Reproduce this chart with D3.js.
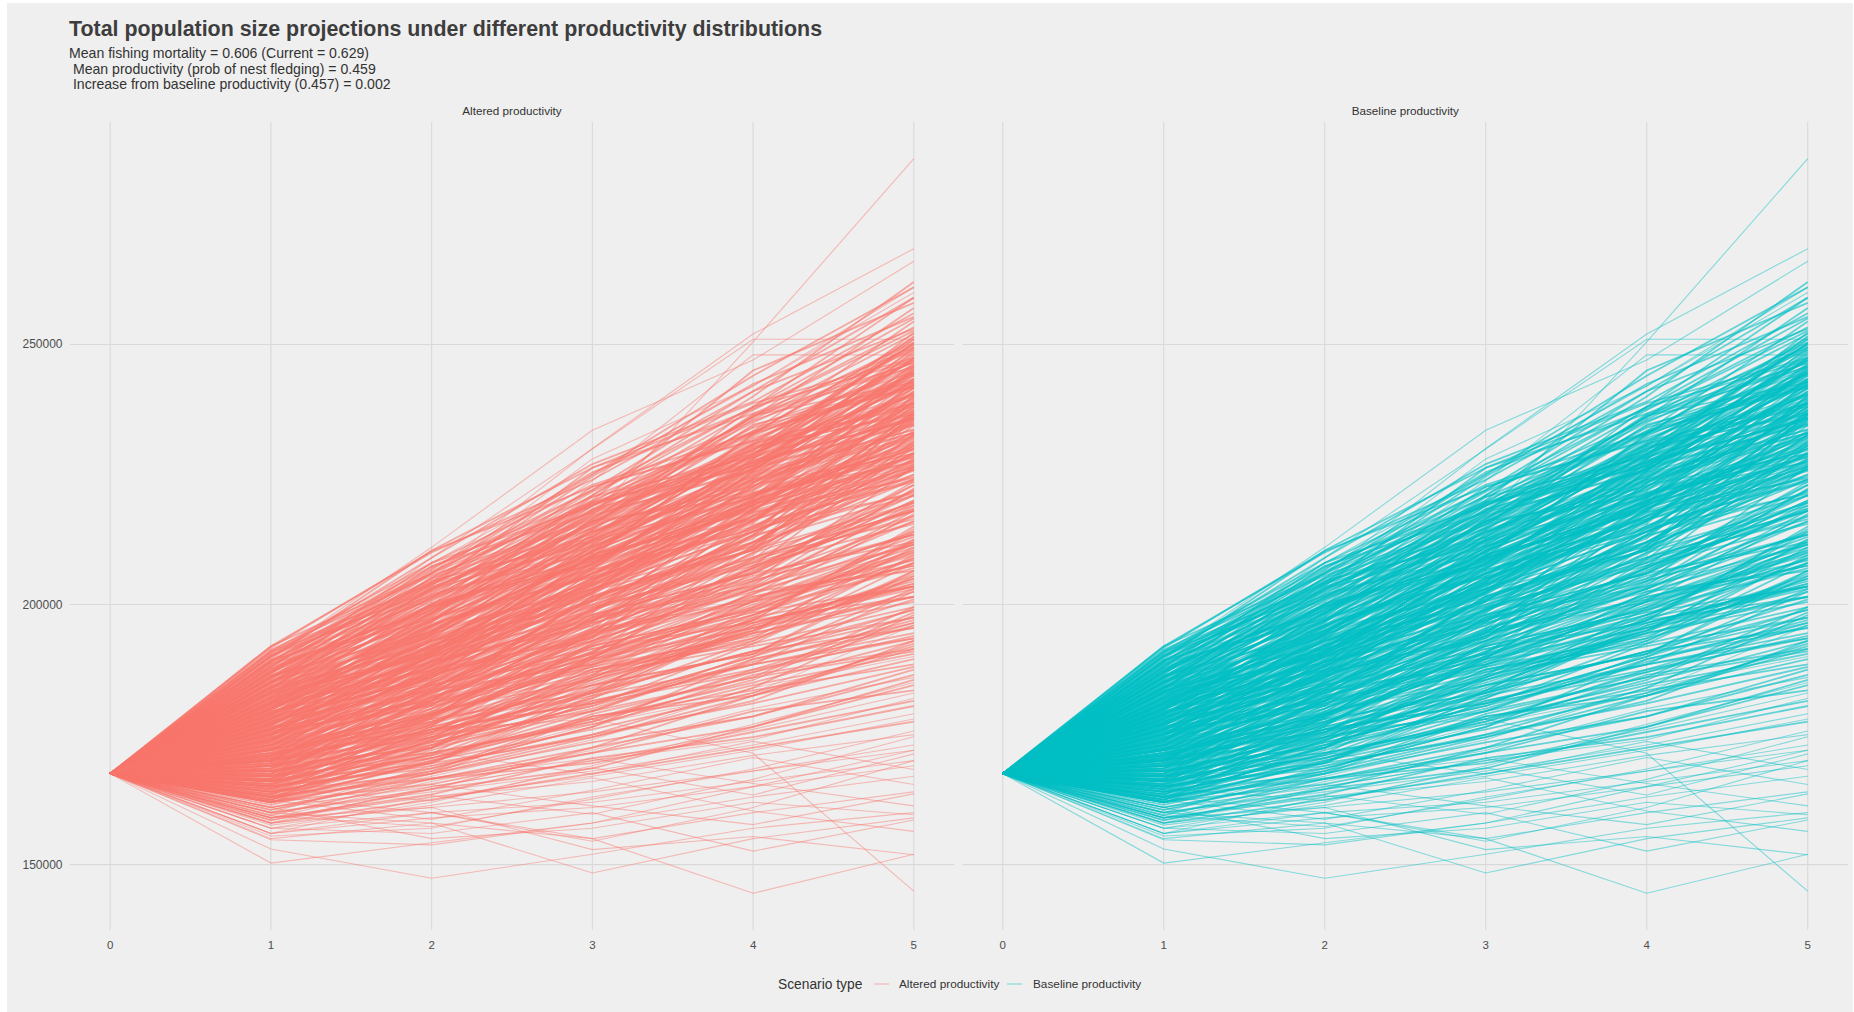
<!DOCTYPE html>
<html>
<head>
<meta charset="utf-8">
<script src="https://cdn.jsdelivr.net/npm/d3@7"></script>
<style>
  body { margin: 0; background: #fff; }
  text { font-family: "Liberation Sans", Arial, sans-serif; }
</style>
</head>
<body>
<script>
// years on the x axis and the common starting size (thousands)
var years = [0, 1, 2, 3, 4, 5];
var startSize = 167.5;

// simulated runs, total population in thousands at years 1..5
var upperRuns = [
  [192,210,224,241,259],[192,206,219,233,250],[191,208,219,236,252],[191,204,221,238,247],
  [190,206,225,244,261],[190,203,218,229,247],[190,209,227,239,256],[189,207,222,238,255],
  [189,201,213,232,243],[189,205,220,245,258],[188,205,216,228,251],[188,199,219,235,249],
  [188,208,223,233,242],[187,204,213,231,238],[187,200,221,240,262],[187,202,210,224,236],
  [186,203,217,226,244],[186,197,210,227,236],[186,206,222,241,253],[186,199,216,230,240],
  [185,202,220,233,246],[185,198,214,222,241],[185,196,207,224,233],[185,204,218,236,257],
  [185,200,209,219,230],[184,200,216,231,250],[184,195,209,219,238],[184,203,212,227,245],
  [184,197,218,234,242],[184,192,204,217,226],[183,199,212,229,242],[183,194,211,225,233],
  [183,201,219,229,249],[183,196,206,215,224],[183,190,203,221,239],
  [191.3,205.6,216.4,230.7,244.3],[191.7,210.3,222.6,231.4,246.8],[190.4,201.7,215.3,235.6,250.4],[190.6,207.3,220.7,228.4,239.6],
  [190.2,204.6,212.3,226.7,248.4],[189.4,203.7,219.6,227.3,235.7],[189.6,210.4,226.3,236.7,249.4],[189.3,198.6,211.7,225.4,240.6],
  [188.7,202.4,214.6,236.3,245.7],[188.4,206.7,225.4,237.6,253.3],[188.6,197.3,208.7,218.4,232.6],[187.3,206.4,219.7,229.6,250.3],
  [187.6,198.3,215.6,233.4,241.7],[187.4,203.6,226.3,238.7,247.4],[187.7,199.4,207.6,221.3,229.7],[186.3,201.6,212.4,230.7,249.6],
  [186.6,207.4,217.7,228.3,237.6],[186.4,194.7,209.3,220.6,243.4],[186.7,204.3,224.6,242.4,255.3],[185.4,197.6,218.3,226.7,238.4],
  [185.7,203.4,213.6,228.7,252.3],[185.3,193.7,210.4,230.3,236.6],[185.6,201.3,222.7,231.6,244.4],[184.4,199.7,208.3,223.6,237.4],
  [184.7,205.3,219.4,226.6,242.7],[184.3,194.4,214.7,228.3,251.6],[184.6,201.4,211.3,220.7,234.6],[183.4,196.7,216.3,236.6,246.4],
  [183.7,203.3,215.4,222.7,238.3],[183.3,192.6,207.4,227.6,240.3],[183.6,198.4,220.7,233.3,254.4],
  [188.3,204.4,221.7,235.3,246.6],[186.2,200.6,218.4,232.7,251.4],[184.2,198.3,215.7,227.4,244.6],[185.2,199.7,210.6,226.3,247.7],
  [183.2,195.6,213.3,232.4,245.6],[187.2,201.4,216.7,234.3,244.7],[189.2,204.3,214.7,229.6,245.3],[190.8,202.6,217.4,236.3,242.7]
];
var middleRuns = [
  [182,197,215,238,259],[182,193,206,217,229],[182,200,214,224,245],[182,191,208,226,235],
  [182,195,203,212,221],[181,196,208,222,236],[181,191,205,220,231],[181,194,210,228,248],
  [181,198,216,221,232],[181,189,199,214,227],[180,192,203,214,226],[180,197,213,230,237],
  [180,189,204,216,240],[180,195,209,233,251],[180,193,200,209,218],[179,193,207,219,235],
  [179,188,201,213,224],[179,196,214,226,243],[179,190,198,206,220],[179,192,211,223,229],
  [178,195,211,226,243],[178,190,205,217,232],[178,186,199,212,228],[178,193,202,218,241],
  [178,188,208,220,233],[177,192,206,221,229],[177,188,203,214,237],[177,185,196,210,219],
  [177,194,209,218,238],[177,189,197,205,216],[176,191,208,225,246],[176,187,199,208,223],
  [176,183,195,207,221],[176,190,202,220,230],[176,186,205,214,225],[175,190,204,218,227],
  [175,186,200,215,231],[175,182,193,203,214],[175,192,207,228,244],[175,184,197,206,212],
  [174,189,201,212,228],[174,184,197,208,217],[174,187,193,204,219],[174,181,190,201,211],
  [174,191,205,216,236],[173,187,203,216,239],[173,182,194,205,222],[173,185,199,209,218],
  [173,179,188,197,208],[173,189,196,211,224],[172,185,198,211,225],[172,180,191,202,213],
  [172,188,206,219,233],[172,183,192,199,210],[172,178,195,207,222],
  [182.3,199.6,209.4,219.7,242.4],[182.6,194.3,212.7,230.4,238.6],[182.4,202.7,219.3,228.6,247.3],[182.7,190.4,206.6,216.3,235.7],
  [181.3,197.6,211.4,229.7,250.3],[181.6,193.4,214.3,224.6,233.7],[181.4,200.3,207.7,218.4,228.6],[181.7,191.6,209.3,232.7,243.4],
  [180.3,198.4,217.6,227.3,236.7],[180.6,190.7,208.4,219.6,245.3],[180.4,196.3,205.7,225.4,233.6],[180.7,187.4,202.6,223.3,239.7],
  [180.2,199.3,219.6,237.4,252.6],[179.3,191.7,210.4,221.6,230.3],[179.6,197.4,205.3,214.7,233.4],[179.4,186.6,203.7,220.3,241.6],
  [179.7,194.3,216.6,231.4,238.7],[179.2,189.6,202.3,225.7,247.4],[178.3,192.4,209.7,216.4,226.6],[178.6,198.7,214.3,234.6,242.3],
  [178.4,187.3,204.6,222.7,236.4],[178.7,191.4,199.7,213.4,230.6],[178.2,196.6,217.3,225.6,249.4],[177.3,190.6,210.3,227.7,235.4],
  [177.6,186.3,200.7,219.4,227.6],[177.4,195.7,205.4,224.3,244.6],[177.7,183.4,201.6,211.3,232.7],[177.2,191.3,213.6,230.7,240.4],
  [176.3,189.4,203.7,215.6,239.3],[176.6,194.6,210.4,222.3,236.7],[176.4,185.7,206.3,216.6,228.4],[176.7,192.3,200.6,223.4,234.6],
  [176.2,181.6,198.4,219.7,231.3],[175.3,188.7,209.4,222.6,242.3],[175.6,194.4,203.6,216.3,225.7],[175.4,185.3,202.7,210.4,236.6],
  [175.7,180.6,199.3,217.7,226.4],[175.2,191.4,206.7,229.3,238.6],[174.3,186.6,207.3,218.7,227.4],[174.6,193.3,202.4,220.6,245.7],
  [174.4,183.7,198.6,213.3,234.4],[174.7,188.4,212.6,223.7,232.3],[173.3,181.4,200.6,211.7,229.3],[173.6,190.3,206.7,214.4,235.6],
  [173.4,184.6,195.3,218.6,230.7],[173.7,187.3,209.6,221.4,227.3],[172.3,182.7,201.4,210.6,226.3],[172.6,190.6,203.3,227.4,240.7],
  [172.4,179.3,197.6,208.7,231.4],[172.7,186.4,196.7,216.3,224.6],
  [182.2,196.7,211.3,224.6,246.3],[180.8,194.6,212.4,228.7,244.3],[178.8,193.4,207.6,226.3,248.7],[176.8,190.3,208.7,224.4,241.6],
  [174.2,190.6,204.3,225.7,243.4],[172.2,187.6,205.4,220.3,238.7],[181.2,195.3,208.6,223.4,241.7],[179.8,195.7,212.3,220.6,237.4],
  [177.8,193.6,204.4,219.3,242.7],[175.8,189.3,211.6,226.4,234.7],[173.8,188.4,200.7,218.3,236.4]
];
var lowerRuns = [
  [171,183,193,207,218],[171,179,189,200,210],[171,186,197,212,230],[171,181,188,194,205],
  [170,184,199,214,229],[170,181,190,198,208],[170,177,186,197,215],[170,185,194,203,217],
  [170,179,193,209,221],[169,180,192,203,216],[169,176,185,195,204],[169,183,198,206,223],
  [169,178,183,191,199],[168,179,191,206,220],[168,175,183,191,201],[168,182,195,201,212],
  [168,173,186,198,209],[167,178,189,198,212],[167,174,182,193,206],[167,180,194,210,226],
  [167,176,181,187,196],[166,177,190,202,218],[166,173,180,189,197],[166,179,187,195,211],
  [166,171,182,196,203],[165,175,186,195,209],[165,171,178,187,194],[165,177,192,199,207],
  [165,169,175,184,198],[164,174,184,196,205],[164,170,176,183,192],[164,176,181,190,203],
  [163,172,181,190,199],[163,168,179,186,191],[163,174,187,193,208],[162,170,178,185,193],
  [162,168,175,181,188],[162,173,183,197,214],
  [171.3,184.6,204.3,219.7,232.4],[171.6,189.3,200.6,210.4,227.7],[171.4,178.7,194.4,215.3,223.6],[170.3,182.4,201.7,211.3,236.6],
  [170.6,188.3,204.6,221.4,228.3],[170.4,176.7,192.3,206.6,218.4],[170.7,183.3,196.6,213.4,240.3],[169.3,181.6,202.4,217.7,224.3],
  [169.6,187.4,197.3,209.6,232.7],[169.4,177.3,190.7,204.4,226.6],[168.3,184.4,193.7,213.3,221.6],[168.6,178.3,197.6,210.7,235.4],
  [168.4,186.7,199.4,208.3,219.7],[167.3,181.4,194.6,217.3,228.7],[167.6,175.3,192.7,204.6,213.4],[167.4,183.6,201.3,212.7,237.3],
  [166.3,180.7,196.4,206.3,223.6],[166.6,174.3,189.6,208.7,216.4],[166.4,185.4,198.7,219.3,231.6],[165.3,178.6,195.4,203.7,222.3],
  [165.6,182.3,190.6,211.4,226.7],[165.4,173.7,188.3,200.6,217.4],[164.3,179.4,193.6,214.7,221.3],[164.6,172.4,190.3,198.7,211.6],
  [163.3,178.4,189.7,207.3,230.6],[163.6,171.3,186.4,200.7,210.3],[162.3,176.6,194.7,203.3,219.6],[162.6,169.7,183.4,199.3,208.7],
  [170.2,186.6,202.3,222.7,239.4]
];
var slowRuns = [
  [171.5,177.5,184.5,190.5,197.5],[171,175.5,183,195.5,203.5],[170.5,180.5,187.5,192.5,206.5],
  [170,174.5,181.5,188.5,194.5],[169.5,178.5,188.5,197,201.5],[169,172.5,179.5,186,199.5],
  [168.5,176,185.5,193.5,209.5],[168,171.5,177,184.5,190.5],[167.5,175.5,182.5,196.5,204],
  [167,170.5,178.5,183.5,188.5],[166.5,174.5,186.5,192,197.5],[166,169.5,174.5,181.5,193],
  [165.5,173.5,180.5,188.5,202.5],[165,168.5,176.5,186.5,191.5],[164.5,172.5,183.5,191,195.5],
  [164,167.5,173.5,178.5,186.5],[163.5,171.5,177.5,185.5,198.5],[163,166.5,172.5,182.5,189.5],
  [162.5,169.5,181.5,187.5,193.5],[162,165.5,171.5,176.5,184.5],[161.5,168.5,176.5,189.5,196.5],
  [161,166.5,169.5,175.5,181.5],[160.5,167.5,174.5,182.5,192.5],[160,164.5,172.5,178.5,187.5],
  [159.5,166.5,171.5,179.5,183.5],[159,163.5,170.5,174.5,180.5],[158.5,164.5,168.5,176.5,185.5],
  [158,162.5,167.5,172.5,177.5],[172.5,182.5,189.5,199.5,212.5],[172,178.5,192.5,201.5,207.5],
  [171.5,184.5,191.5,196.5,204.5],[171,177.5,186.5,202.5,211.5],[170.5,181.5,195.5,205.5,213.5],
  [170,176.5,184.5,194.5,201.5],[169.5,183.5,194.5,200.5,207.5],[169,175.5,189.5,197.5,214.5],
  [168.5,179.5,185.5,196.5,203.5],[168,174.5,187.5,193.5,202.5],[167.5,181.5,190.5,199.5,210.5],
  [167,173.5,180.5,192.5,199.5],[166.5,177.5,189.5,195.5,201.5],[166,172.5,184.5,190.5,206.5],
  [165.5,176.5,183.5,197.5,203.5],[165,170.5,179.5,189.5,195.5],[164.5,175.5,187.5,194.5,212.5],
  [164,169.5,182.5,188.5,193.5],[163.5,174.5,179.5,190.5,205.5],[163,170.5,177.5,187.5,196.5],
  [162.5,172.5,185.5,194.5,200.5],[162,167.5,178.5,182.5,191.5],[175.5,181.5,188.5,195.5,205.5],
  [176.5,184.5,190.5,200.5,209.5],[177.5,186.5,194.5,202.5,206.5],[178.5,185.5,196.5,204.5,213.5],
  [179.5,187.5,193.5,207.5,215.5],[174.5,180.5,191.5,198.5,203.5],[173.5,183.5,188.5,201.5,208.5],
  [180.5,188.5,197.5,203.5,211.5],[181.5,190.5,199.5,207.5,218.5],[183.5,191.5,201.5,210.5,219.5]
];
var tailRuns = [
  [161,167,174,184,190],[161,165,170,176,183],[160,169,177,183,196],[160,164,168,173,179],
  [159,166,172,180,186],[159,163,166,171,175],[158,165,170,174,182],[158,161,164,168,172],
  [157,162,169,177,185],[157,160,162,166,170],[156,163,167,172,178],[156,159,161,165,169],
  [155.5,157,163,168,173],[155,158,155,160,164],[154.8,153.8,158,163,167],[150.3,154.2,158,165,172],
  [153,147.4,152,157,160],[160,158,148.4,155,159],[163,160,155,144.5,152],[170,176,178,171.4,144.9],
  [157,156,160,152.6,158.6],[159,161,152.9,155.4,151.9],[161,155,157,162,159.6],[156,160,154.5,161,170],
  [158.6,163.3,159.7,166.4,174.6],[162.4,158.7,164.3,170.6,165.4],[160.6,165.4,161.3,157.7,163.6],
  [164.7,162.3,168.6,163.4,171.3],[157.6,161.4,166.7,160.3,156.4],[166.3,171.6,167.4,173.7,168.3],
  [159.4,157.3,162.6,168.4,175.7],[163.3,166.7,170.4,165.6,161.3]
];
var outlierRuns = [
  [186,200,217,250.5,285.7],[188,206,230,252,268.4],[190,211,233.5,247,266],[187,209,229.9,251,251],
  [184,203,223.8,248,248],[189,208,225,242,261],[185,205,228,242,260]
];

var panels = ["Altered productivity", "Baseline productivity"];
var colors = ["#F8766D", "#00BFC4"];
var yTicks = [150000, 200000, 250000];

function toRuns(rows) {
  return rows.map(function(r) { return [startSize].concat(r).map(function(v) { return v * 1000; }); });
}
var coreRuns = toRuns(upperRuns.concat(middleRuns, lowerRuns, slowRuns));
var edgeRuns = toRuns(tailRuns.concat(outlierRuns));

var W = 1854, H = 1012;
var svg = d3.select("body").append("svg")
  .attr("width", W).attr("height", H);

svg.append("rect").attr("width", W).attr("height", H).attr("fill", "#fff");
svg.append("rect").attr("x", 7).attr("y", 3).attr("width", 1846).attr("height", 1009).attr("fill", "#efefef");

// y scale with ggplot style 5% expansion
var allVals = d3.merge(coreRuns.concat(edgeRuns));
var ext = d3.extent(allVals), pad = (ext[1] - ext[0]) * 0.05;
var y = d3.scaleLinear().domain([ext[0] - pad, ext[1] + pad]).range([930, 122]);

var panelX = [[70, 954], [962.5, 1848]];

svg.append("text").attr("x", 69).attr("y", 36)
  .attr("font-size", 21.4).attr("font-weight", "bold").attr("fill", "#3d3d3d")
  .text("Total population size projections under different productivity distributions");

var subtitle = ["Mean fishing mortality = 0.606 (Current = 0.629)",
  " Mean productivity (prob of nest fledging) = 0.459",
  " Increase from baseline productivity (0.457) = 0.002"];
svg.append("g").selectAll("text").data(subtitle).enter().append("text")
  .attr("x", 69).attr("y", function(d, i) { return 58.2 + i * 15.3; })
  .attr("font-size", 14.1).attr("fill", "#333")
  .style("white-space", "pre")
  .text(function(d) { return d; });

panels.forEach(function(name, p) {
  var x = d3.scaleLinear().domain([-0.25, 5.25]).range(panelX[p]);
  var g = svg.append("g");

  // grid
  g.selectAll(".hg").data(yTicks).enter().append("line")
    .attr("x1", panelX[p][0]).attr("x2", panelX[p][1])
    .attr("y1", function(d) { return y(d); }).attr("y2", function(d) { return y(d); })
    .attr("stroke", "#d9d9d9").attr("stroke-width", 1.1);
  g.selectAll(".vg").data(years).enter().append("line")
    .attr("x1", function(d) { return x(d); }).attr("x2", function(d) { return x(d); })
    .attr("y1", 122).attr("y2", 930)
    .attr("stroke", "#d9d9d9").attr("stroke-width", 1.1);

  // strip label
  g.append("text").attr("x", (panelX[p][0] + panelX[p][1]) / 2).attr("y", 115)
    .attr("text-anchor", "middle").attr("font-size", 11.7).attr("fill", "#333")
    .text(name);

  // x tick labels
  g.selectAll(".xt").data(years).enter().append("text")
    .attr("x", function(d) { return x(d); }).attr("y", 949)
    .attr("text-anchor", "middle").attr("font-size", 11.5).attr("fill", "#4d4d4d")
    .text(function(d) { return d; });

  if (p === 0) {
    g.selectAll(".yt").data(yTicks).enter().append("text")
      .attr("x", 62.5).attr("y", function(d) { return y(d) + 4; })
      .attr("text-anchor", "end").attr("font-size", 12).attr("fill", "#4d4d4d")
      .text(function(d) { return d; });
  }

  var line = d3.line()
    .x(function(d, i) { return x(years[i]); })
    .y(function(d) { return y(d); });

  // dense body of runs, drawn heavier to stand in for the full set
  g.append("g").selectAll("path").data(coreRuns).enter().append("path")
    .attr("d", line)
    .attr("fill", "none")
    .attr("stroke", colors[p])
    .attr("stroke-width", 1.8)
    .attr("stroke-opacity", 0.6);

  g.append("g").selectAll("path").data(edgeRuns).enter().append("path")
    .attr("d", line)
    .attr("fill", "none")
    .attr("stroke", colors[p])
    .attr("stroke-width", 1.1)
    .attr("stroke-opacity", 0.45);
});

// legend
var leg = svg.append("g");
leg.append("text").attr("x", 778).attr("y", 989).attr("font-size", 13.8).attr("fill", "#333")
  .text("Scenario type");
var keyX = [874, 1007], labX = [899, 1033];
panels.forEach(function(name, p) {
  leg.append("line").attr("x1", keyX[p]).attr("x2", keyX[p] + 15)
    .attr("y1", 984).attr("y2", 984)
    .attr("stroke", colors[p]).attr("stroke-width", 1.2).attr("stroke-opacity", 0.45);
  leg.append("text").attr("x", labX[p]).attr("y", 988).attr("font-size", 11.8).attr("fill", "#333")
    .text(name);
});
</script>
</body>
</html>
